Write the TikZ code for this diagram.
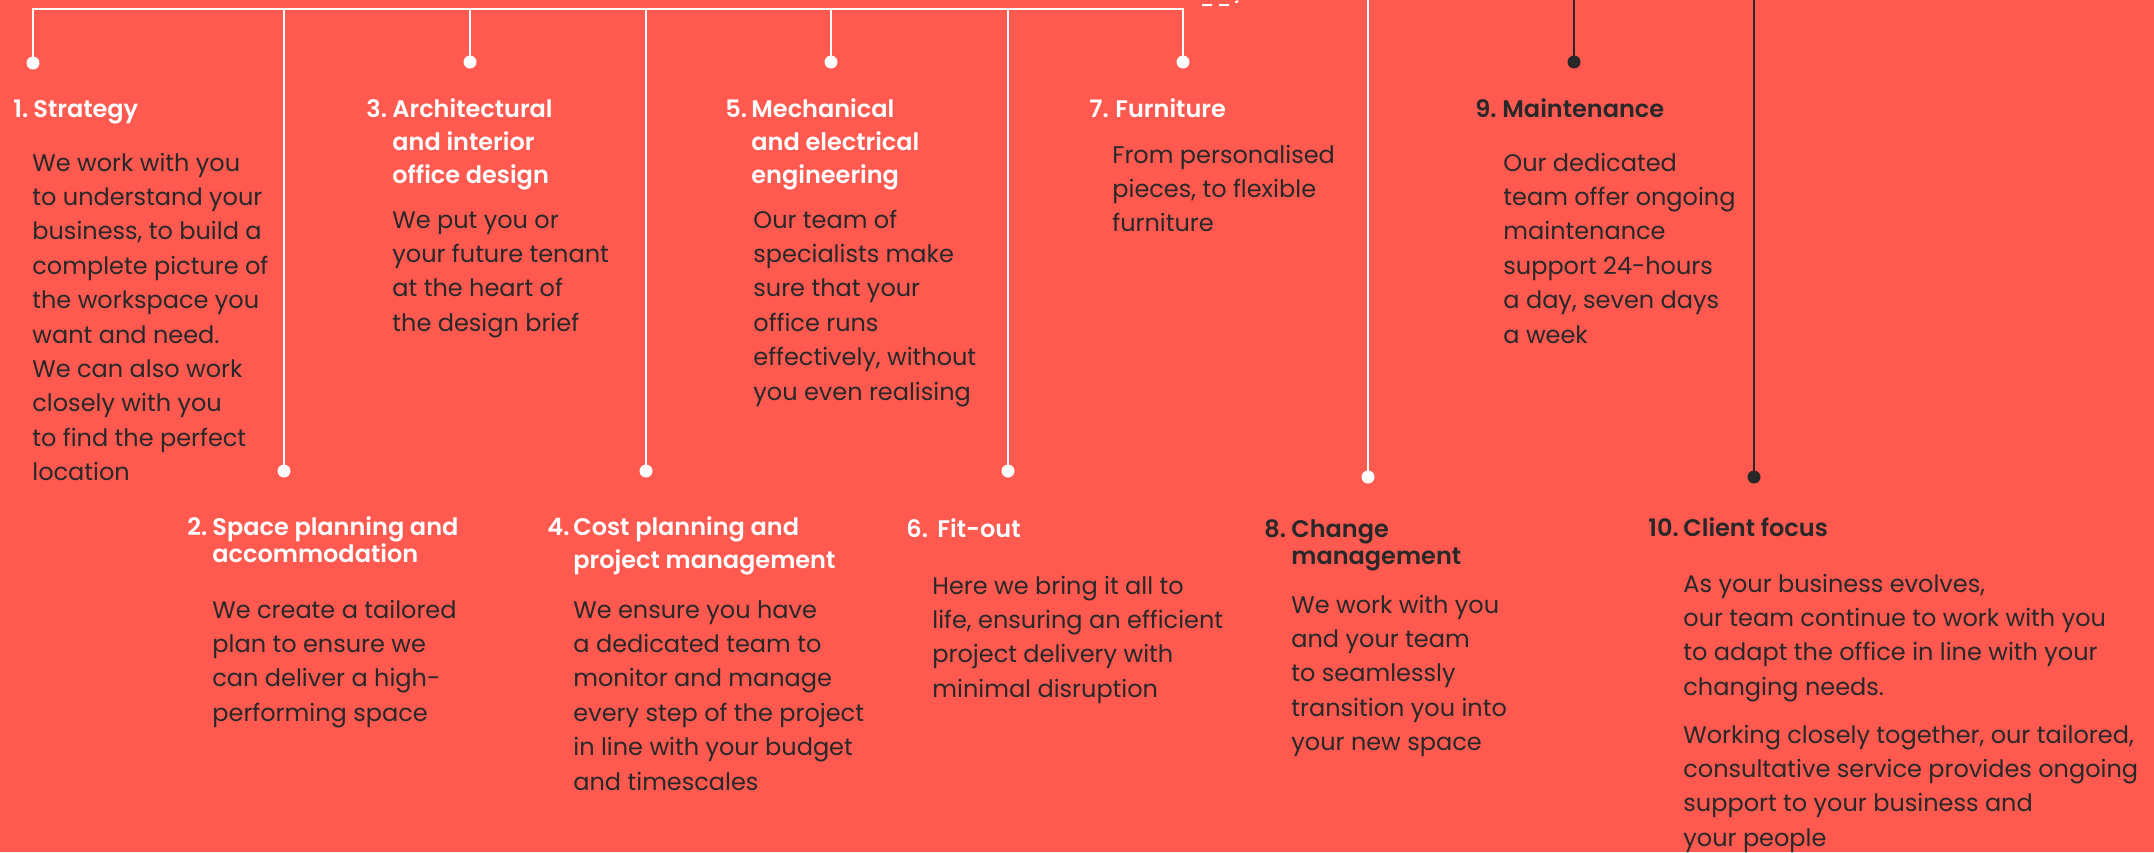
\documentclass[tikz,border=0pt]{standalone}
\usepackage{fontspec}
\setmainfont{Poppins}
\newfontfamily\headfont{Poppins SemiBold}
\usepackage{xcolor}

\definecolor{coral}{RGB}{255,89,80}
\definecolor{ink}{RGB}{40,40,40}

\newcommand{\textlines}[1]{\begin{tabular}[t]{@{}l@{}}#1\end{tabular}}

\tikzset{
  wline/.style={line width=1pt, white},
  dline/.style={line width=1pt, ink},
  wdot/.style={circle, fill=white, inner sep=0pt, minimum size=6.5pt},
  ddot/.style={circle, fill=ink, inner sep=0pt, minimum size=6.5pt},
  head/.style={anchor=base west, inner sep=0pt, text=white, font=\headfont\fontsize{12}{16.5}\selectfont},
  tight/.style={font=\headfont\fontsize{12}{13.75}\selectfont},
  body/.style={anchor=base west, inner sep=0pt, text=ink, font=\fontsize{12}{17.2}\selectfont}
}

\begin{document}
\begin{tikzpicture}[x=0.5pt, y=-0.5pt]
    \fill[coral] (0,0) rectangle (2154,852) ;
    \useasboundingbox (0,0) rectangle (2154,852) ;
    \clip (0,0) rectangle (2154,852) ;

    \coordinate (t1) at (33,9) ;
    \coordinate (t2) at (284,9) ;
    \coordinate (t3) at (470,9) ;
    \coordinate (t4) at (646,9) ;
    \coordinate (t5) at (831,9) ;
    \coordinate (t6) at (1008,9) ;
    \coordinate (t7) at (1183,9) ;
    \coordinate (t8) at (1368,0) ;
    \coordinate (t9) at (1574,0) ;
    \coordinate (t10) at (1754,0) ;

    \node[wdot] at (33,63) (d1) {} ;
    \node[wdot] at (284,471) (d2) {} ;
    \node[wdot] at (470,62) (d3) {} ;
    \node[wdot] at (646,471) (d4) {} ;
    \node[wdot] at (831,62) (d5) {} ;
    \node[wdot] at (1008,471) (d6) {} ;
    \node[wdot] at (1183,62) (d7) {} ;
    \node[wdot] at (1368,477) (d8) {} ;
    \node[ddot] at (1574,62) (d9) {} ;
    \node[ddot] at (1754,477) (d10) {} ;

    \draw[wline] (d1.center) -- (t1) -- (t7) -- (d7.center) ;
    \draw[wline] (t2) -- (d2.center) ;
    \draw[wline] (t3) -- (d3.center) ;
    \draw[wline] (t4) -- (d4.center) ;
    \draw[wline] (t5) -- (d5.center) ;
    \draw[wline] (t6) -- (d6.center) ;
    \draw[wline] (t8) -- (d8.center) ;
    \draw[dline] (t9) -- (d9.center) ;
    \draw[dline] (t10) -- (d10.center) ;

    \coordinate (e1) at (1202,5) ;
    \coordinate (e2) at (1231,5) ;
    \coordinate (e3) at (1238,1) ;
    \draw[wline, dash pattern=on 5pt off 3.5pt] (e1) -- (e2) -- (e3) ;

    \node[head] at (13,117) (n1) {1.} ;
    \node[head] at (33,117) (h1) {Strategy} ;
    \node[body] at (32,171) (b1) {\textlines{We work with you\\to understand your\\business, to build a\\complete picture of\\the workspace you\\want and need.\\We can also work\\closely with you\\to find the perfect\\location}} ;

    \node[head] at (187,535) (n2) {2.} ;
    \node[head, tight] at (212,535) (h2) {\textlines{Space planning and\\accommodation}} ;
    \node[body] at (212,618) (b2) {\textlines{We create a tailored\\plan to ensure we\\can deliver a high-\\performing space}} ;

    \node[head] at (366,117) (n3) {3.} ;
    \node[head] at (392,117) (h3) {\textlines{Architectural\\and interior\\office design}} ;
    \node[body] at (392,228) (b3) {\textlines{We put you or\\your future tenant\\at the heart of\\the design brief}} ;

    \node[head] at (547,535) (n4) {4.} ;
    \node[head] at (573,535) (h4) {\textlines{Cost planning and\\project management}} ;
    \node[body] at (573,618) (b4) {\textlines{We ensure you have\\a dedicated team to\\monitor and manage\\every step of the project\\in line with your budget\\and timescales}} ;

    \node[head] at (725,117) (n5) {5.} ;
    \node[head] at (751,117) (h5) {\textlines{Mechanical\\and electrical\\engineering}} ;
    \node[body] at (753,228) (b5) {\textlines{Our team of\\specialists make\\sure that your\\office runs\\effectively, without\\you even realising}} ;

    \node[head] at (906,537) (n6) {6.} ;
    \node[head] at (937,537) (h6) {Fit-out} ;
    \node[body] at (932,594) (b6) {\textlines{Here we bring it all to\\life, ensuring an efficient\\project delivery with\\minimal disruption}} ;

    \node[head] at (1089,117) (n7) {7.} ;
    \node[head] at (1115,117) (h7) {Furniture} ;
    \node[body] at (1112,163) (b7) {\textlines{From personalised\\pieces, to flexible\\furniture}} ;

    \node[head, text=ink] at (1264,537) (n8) {8.} ;
    \node[head, tight, text=ink] at (1291,537) (h8) {\textlines{Change\\management}} ;
    \node[body] at (1291,613) (b8) {\textlines{We work with you\\and your team\\to seamlessly\\transition you into\\your new space}} ;

    \node[head, text=ink] at (1475,117) (n9) {9.} ;
    \node[head, text=ink] at (1502,117) (h9) {Maintenance} ;
    \node[body] at (1503,171) (b9) {\textlines{Our dedicated\\team offer ongoing\\maintenance\\support 24-hours\\a day, seven days\\a week}} ;

    \node[head, text=ink] at (1648,536) (n10) {10.} ;
    \node[head, text=ink] at (1683,536) (h10) {Client focus} ;
    \node[body] at (1683,592) (b10) {\textlines{As your business evolves,\\our team continue to work with you\\to adapt the office in line with your\\changing needs.}} ;
    \node[body] at (1683,743) (b10b) {\textlines{Working closely together, our tailored,\\consultative service provides ongoing\\support to your business and\\your people}} ;
\end{tikzpicture}
\end{document}
